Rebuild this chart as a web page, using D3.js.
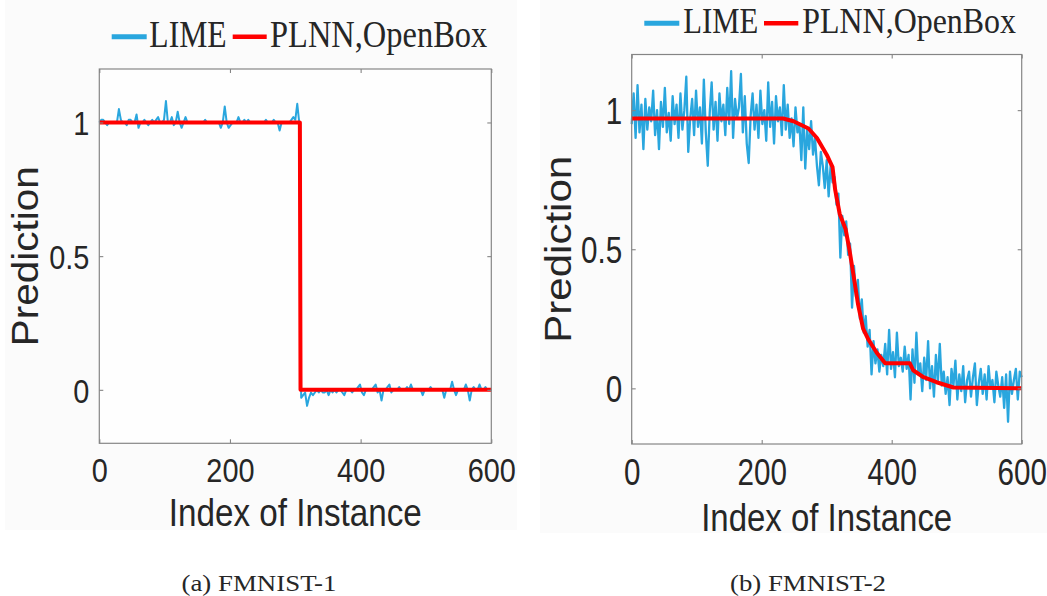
<!DOCTYPE html>
<html>
<head>
<meta charset="utf-8">
<script src="https://cdn.jsdelivr.net/npm/d3@7"></script>
<style>
  body { margin: 0; background: #ffffff; }
  svg { display: block; }
</style>
</head>
<body>
<svg id="chart" width="1047" height="596"></svg>
<script>
// ---- data ---------------------------------------------------------------
const indexTicks = [0, 200, 400, 600];
const predTicks = [0, 0.5, 1];
const predTickLabels = ["0", "0.5", "1"];
const seriesNames = ["LIME", "PLNN,OpenBox"];
const captions = ["(a) FMNIST-1", "(b) FMNIST-2"];
const axisTitles = ["Index of Instance", "Prediction"];

// LIME predictions, sampled every 3rd instance (0, 3, ..., 600)
const limeStep = 3;
const lime1 = [
  1.00, 1.01, 1.01, 1.00, 0.99, 1.00, 1.00, 1.00, 1.00, 1.00,
  1.05, 1.01, 1.00, 1.00, 0.99, 1.01, 1.01, 1.00, 1.00, 1.03,
  0.98, 1.00, 1.00, 1.01, 1.00, 0.99, 1.00, 1.01, 1.00, 1.01,
  1.02, 1.00, 1.00, 1.01, 1.08, 1.00, 1.00, 1.02, 0.99, 1.00,
  1.04, 1.00, 0.98, 1.00, 1.02, 1.00, 1.00, 1.00, 1.00, 1.00,
  1.00, 1.00, 1.00, 1.00, 1.01, 1.00, 1.00, 1.00, 1.00, 1.00,
  1.00, 1.00, 0.98, 1.00, 1.06, 1.00, 0.98, 0.99, 1.00, 1.00,
  1.00, 1.02, 1.00, 1.00, 1.01, 1.00, 1.01, 1.00, 1.00, 1.00,
  1.00, 1.00, 1.00, 1.00, 1.00, 1.01, 1.00, 1.00, 1.00, 1.01,
  1.00, 1.00, 0.97, 1.00, 1.00, 1.00, 1.00, 1.00, 1.01, 1.02,
  1.01, 1.07, 1.00, -0.03, -0.02, -0.01, -0.06, -0.03, -0.01, -0.02,
  -0.01, 0.00, -0.01, 0.00, -0.01, -0.01, 0.00, -0.02, 0.00, -0.01,
  0.00, -0.01, 0.00, 0.00, -0.01, -0.02, 0.00, 0.00, 0.00, -0.01,
  0.00, 0.00, 0.01, 0.02, -0.01, -0.02, 0.00, 0.00, 0.00, 0.00,
  0.01, 0.02, -0.01, 0.00, -0.04, 0.00, 0.00, 0.01, 0.02, -0.01,
  0.00, 0.00, 0.00, 0.01, 0.00, 0.00, 0.00, 0.01, 0.00, 0.02,
  0.00, 0.00, 0.00, 0.00, 0.00, -0.02, 0.00, 0.00, 0.00, 0.01,
  0.00, 0.00, 0.00, 0.00, 0.00, 0.00, -0.03, 0.00, 0.00, 0.00,
  0.03, 0.00, -0.02, 0.00, 0.00, 0.00, 0.00, 0.02, 0.00, -0.04,
  0.00, 0.01, 0.00, 0.00, 0.02, 0.00, 0.00, 0.01, 0.00, 0.00,
  0.00
];
const lime2 = [
  0.95, 1.06, 0.90, 1.09, 0.92, 1.02, 0.86, 1.04, 0.93, 1.01,
  0.96, 1.07, 0.91, 1.00, 0.86, 1.03, 0.94, 1.08, 0.92, 0.99,
  0.89, 1.05, 0.95, 1.02, 0.90, 1.06, 0.93, 1.00, 1.12, 0.85,
  0.97, 1.04, 0.91, 1.07, 0.94, 1.01, 0.88, 1.11, 0.92, 0.80,
  0.99, 1.10, 0.93, 1.03, 0.89, 1.06, 0.96, 1.02, 0.91, 1.08,
  0.95, 1.14, 0.90, 1.04, 0.97, 1.01, 1.13, 0.92, 1.05, 0.88,
  0.81, 0.98, 1.06, 0.93, 1.02, 0.90, 1.07, 0.95, 1.00, 0.89,
  1.10, 0.94, 1.03, 0.88, 1.05, 0.96, 1.01, 0.91, 1.09, 0.93,
  1.02, 0.90, 0.97, 0.87, 1.01, 0.92, 0.95, 0.82, 1.01, 0.79,
  0.93, 0.86, 0.96, 0.84, 0.90, 0.80, 0.73, 0.85, 0.80, 0.72,
  0.82, 0.69, 0.80, 0.74, 0.76, 0.66, 0.70, 0.47, 0.62, 0.55,
  0.60, 0.48, 0.52, 0.29, 0.44, 0.33, 0.39, 0.25, 0.32, 0.20,
  0.26, 0.15, 0.21, 0.05, 0.17, 0.09, 0.14, 0.06, 0.12, 0.08,
  0.16, 0.05, 0.21, 0.07, 0.13, 0.04, 0.20, 0.08, 0.11, 0.06,
  0.15, 0.07, 0.12, -0.04, 0.14, 0.02, 0.20, 0.05, 0.09, -0.01,
  0.11, 0.03, 0.17, 0.00, 0.08, -0.03, 0.12, 0.02, 0.16, 0.01,
  0.06, -0.02, 0.04, -0.06, 0.07, 0.01, 0.10, -0.04, 0.05, -0.01,
  0.08, -0.05, 0.03, 0.06, -0.03, 0.04, 0.09, -0.06, 0.02, 0.07,
  -0.02, 0.05, -0.04, 0.08, 0.00, 0.03, -0.05, 0.06, 0.01, -0.03,
  0.04, -0.07, 0.05, -0.12, 0.06, -0.02, 0.03, 0.07, -0.04, 0.06,
  0.04
];

// PLNN / OpenBox predictions (piecewise linear), given at their breakpoints
const plnnIdx1 = [0, 307, 308, 600];
const plnnVal1 = [1, 1, 0, 0];
const plnnIdx2 = [0, 233, 249, 272, 285, 300, 309, 313, 320, 329, 335, 341, 348, 356, 364, 377, 390, 428, 433, 449, 469, 495, 600];
const plnnVal2 = [0.97, 0.97, 0.96, 0.934, 0.90, 0.84, 0.795, 0.714, 0.627, 0.573, 0.498, 0.41, 0.305, 0.215, 0.176, 0.128, 0.09, 0.09, 0.065, 0.04, 0.022, 0.003, 0.0];

// ---- styling ------------------------------------------------------------
const SANS = "'Liberation Sans', Arial, Helvetica, sans-serif";
const SERIF = "'Liberation Serif', 'Times New Roman', serif";
const INK = "#262626";
const FRAME = "#858585";
const LIME_COLOR = "#29a6de";
const PLNN_COLOR = "#ff0000";

const panels = [
  {
    lime: lime1, plnnIdx: plnnIdx1, plnnVal: plnnVal1, caption: captions[0],
    bg: [5, 0, 512, 530],
    box: [99.3, 69, 491.3, 443.3],
    limeWidth: 2,
    tickFont: 34, tickSx: 0.85, yGap: 10, xGap: 15,
    yTitle: { base: 38.3, len: 180, size: 37 },
    xTitle: { base: 526, len: 253, size: 39 },
    legend: { lineY: 36.7, base: 46.7, size: 37,
              blue: [111.7, 146.7], lime: [149.3, 77.4],
              red: [232.7, 266.7], plnn: [270, 217.3] },
    cap: { x: 259, base: 591, len: 155, size: 23 }
  },
  {
    lime: lime2, plnnIdx: plnnIdx2, plnnVal: plnnVal2, caption: captions[1],
    bg: [540, 0, 507, 533],
    box: [631.7, 54.5, 1021.7, 444],
    limeWidth: 2.3,
    tickFont: 37, tickSx: 0.8, yGap: 9.5, xGap: 14.5,
    yTitle: { base: 570.7, len: 187, size: 36 },
    xTitle: { base: 530.7, len: 251, size: 38 },
    legend: { lineY: 23.3, base: 33.3, size: 35,
              blue: [644.3, 679.3], lime: [683.3, 75],
              red: [764, 798.3], plnn: [802.3, 213.7] },
    cap: { x: 808, base: 591, len: 156, size: 23 }
  }
];

const svg = d3.select("#chart");

function fitText(parent, str, x, y, opts) {
  const t = parent.append("text")
    .attr("x", x).attr("y", y)
    .attr("font-family", opts.family)
    .attr("font-size", opts.size)
    .attr("fill", INK)
    .attr("text-anchor", opts.anchor || "start")
    .text(str);
  if (opts.len) t.attr("textLength", opts.len).attr("lengthAdjust", "spacingAndGlyphs");
  if (opts.transform) t.attr("transform", opts.transform);
  return t;
}

panels.forEach(p => {
  const [bx, by, bw, bh] = p.bg;
  svg.append("rect").attr("x", bx).attr("y", by).attr("width", bw).attr("height", bh)
    .attr("fill", "#fbfbfb");

  const [x0, y0, x1, y1] = p.box;
  const x = d3.scaleLinear().domain([0, 600]).range([x0, x1]);
  const y = d3.scaleLinear().domain([-0.2, 1.2]).range([y1, y0]);

  const g = svg.append("g");
  g.append("rect").attr("x", x0).attr("y", y0).attr("width", x1 - x0).attr("height", y1 - y0)
    .attr("fill", "#fefefe");

  // LIME trace
  const limeLine = d3.line().x((d, i) => x(i * limeStep)).y(d => y(d));
  g.append("path").datum(p.lime)
    .attr("d", limeLine)
    .attr("fill", "none").attr("stroke", LIME_COLOR)
    .attr("stroke-width", p.limeWidth).attr("stroke-linejoin", "round");

  // PLNN / OpenBox trace
  const plnnLine = d3.line().x(d => x(d[0])).y(d => y(d[1]));
  g.append("path").datum(d3.zip(p.plnnIdx, p.plnnVal))
    .attr("d", plnnLine)
    .attr("fill", "none").attr("stroke", PLNN_COLOR)
    .attr("stroke-width", 4).attr("stroke-linejoin", "round");

  // frame
  g.append("rect").attr("x", x0).attr("y", y0).attr("width", x1 - x0).attr("height", y1 - y0)
    .attr("fill", "none").attr("stroke", FRAME).attr("stroke-width", 1.2);

  const tickLen = 4;
  const styleAxis = sel => {
    sel.select(".domain").remove();
    sel.selectAll(".tick line").attr("stroke", FRAME).attr("stroke-width", 1.1);
  };

  // bottom axis with labels
  const xb = g.append("g").attr("transform", `translate(0,${y1})`)
    .call(d3.axisBottom(x).tickValues(indexTicks).tickSizeInner(-tickLen).tickSizeOuter(0)
      .tickPadding(p.xGap).tickFormat(d3.format("d")));
  styleAxis(xb);
  xb.selectAll(".tick text")
    .attr("font-family", SANS).attr("font-size", p.tickFont).attr("fill", INK)
    .attr("transform", `scale(${p.tickSx},1)`);

  // left axis with labels
  const yl = g.append("g").attr("transform", `translate(${x0},0)`)
    .call(d3.axisLeft(y).tickValues(predTicks).tickSizeInner(-tickLen).tickSizeOuter(0)
      .tickFormat((d, i) => predTickLabels[i]));
  styleAxis(yl);
  yl.selectAll(".tick text")
    .attr("x", -p.yGap / p.tickSx)
    .attr("dy", "0.36em")
    .attr("font-family", SANS).attr("font-size", p.tickFont).attr("fill", INK)
    .attr("transform", `scale(${p.tickSx},1)`);

  // mirrored ticks on top and right
  const xt = g.append("g").attr("transform", `translate(0,${y0})`)
    .call(d3.axisTop(x).tickValues(indexTicks).tickSizeInner(-tickLen).tickSizeOuter(0).tickFormat(""));
  styleAxis(xt);
  const yr = g.append("g").attr("transform", `translate(${x1},0)`)
    .call(d3.axisRight(y).tickValues(predTicks).tickSizeInner(-tickLen).tickSizeOuter(0).tickFormat(""));
  styleAxis(yr);

  // axis titles
  fitText(g, axisTitles[0], (x0 + x1) / 2, p.xTitle.base,
    { family: SANS, size: p.xTitle.size, anchor: "middle", len: p.xTitle.len });
  const yc = y(0.5);
  fitText(g, axisTitles[1], 0, 0,
    { family: SANS, size: p.yTitle.size, anchor: "middle", len: p.yTitle.len,
      transform: `translate(${p.yTitle.base},${yc}) rotate(-90)` });

  // legend
  const L = p.legend;
  g.append("line").attr("x1", L.blue[0]).attr("x2", L.blue[1]).attr("y1", L.lineY).attr("y2", L.lineY)
    .attr("stroke", LIME_COLOR).attr("stroke-width", 5);
  fitText(g, seriesNames[0], L.lime[0], L.base, { family: SERIF, size: L.size, len: L.lime[1] });
  g.append("line").attr("x1", L.red[0]).attr("x2", L.red[1]).attr("y1", L.lineY).attr("y2", L.lineY)
    .attr("stroke", PLNN_COLOR).attr("stroke-width", 4.5);
  fitText(g, seriesNames[1], L.plnn[0], L.base, { family: SERIF, size: L.size, len: L.plnn[1] });

  // caption
  fitText(svg, p.caption, p.cap.x, p.cap.base,
    { family: SERIF, size: p.cap.size, anchor: "middle", len: p.cap.len });
});
</script>
</body>
</html>
